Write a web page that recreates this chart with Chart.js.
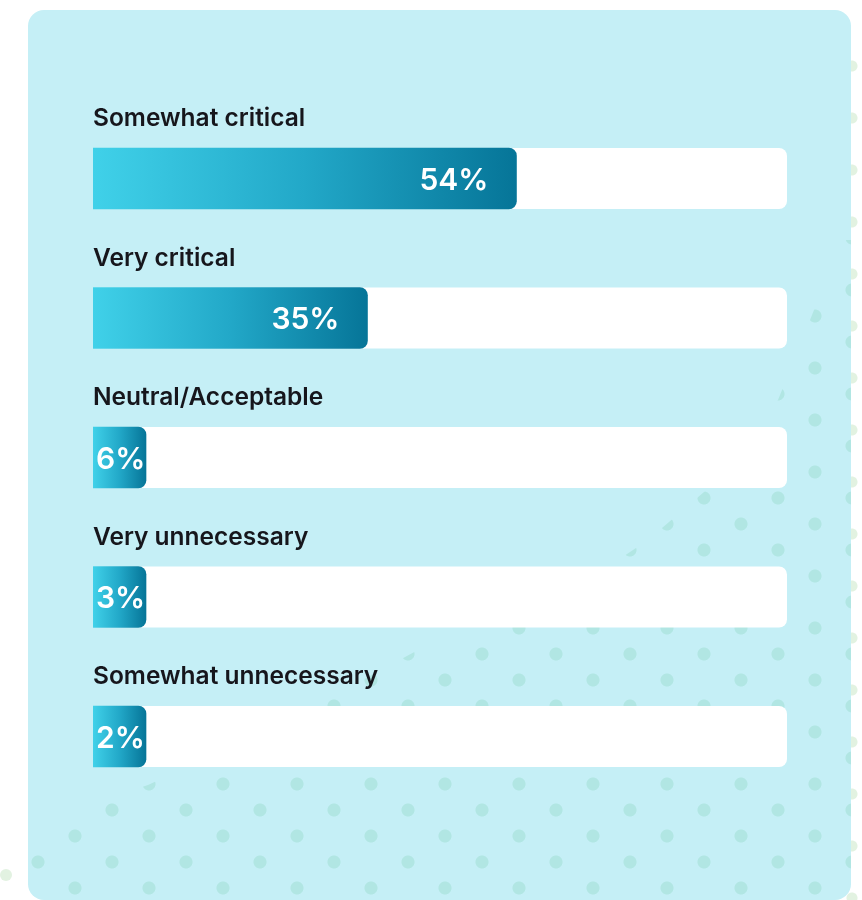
<!DOCTYPE html>
<html>
<head>
<meta charset="utf-8">
<script src="https://cdn.jsdelivr.net/npm/chart.js@4.4.1/dist/chart.umd.min.js"></script>
<style>
  html, body { margin: 0; padding: 0; background: #fff; }
  body { width: 862px; height: 900px; position: relative; overflow: hidden; }
  .side-dots {
    position: absolute; left: 842px; top: 40px; width: 20px; height: 860px;
    background-image: radial-gradient(circle, #e2f2e1 5px, transparent 6px);
    background-size: 20px 52px;
  }
  .left-dot {
    position: absolute; left: 0; top: 869px; width: 12px; height: 12px;
    border-radius: 50%; background: #e2f2e1;
  }
  .panel {
    position: absolute; left: 28px; top: 10px; width: 823px; height: 890px;
    background: #c5eff6; border-radius: 16px; overflow: hidden;
  }
  .panel .dots {
    position: absolute; inset: 0;
    background-image:
      radial-gradient(circle, #b1e6e3 6px, transparent 7px),
      radial-gradient(circle, #b1e6e3 6px, transparent 7px);
    background-size: 74px 52px, 74px 52px;
    background-position: 10px 20px, 47px 46px;
    /* page coords minus panel offset (28,10) */
    clip-path: polygon(805px 230px, 823px 230px, 823px 890px, 0 890px, 0 815px,
      120px 775px, 270px 705px, 390px 640px, 530px 590px, 620px 530px,
      690px 470px, 750px 390px, 790px 290px);
  }
  canvas { position: absolute; left: 0; top: 0; }
</style>
</head>
<body>
<div class="side-dots"></div>
<div class="left-dot"></div>
<div class="panel"><div class="dots"></div></div>
<canvas id="chart" width="862" height="900"></canvas>
<script>
const categories = ['Somewhat critical', 'Very critical', 'Neutral/Acceptable', 'Very unnecessary', 'Somewhat unnecessary'];
const shares = [54, 35, 6, 3, 2];
const percentLabels = ['54%', '35%', '6%', '3%', '2%'];

const minLen = 53;

function barGradient(context) {
  const chart = context.chart;
  if (!chart.chartArea) return '#1fa6c6';
  const x = chart.scales.x;
  const start = x.getPixelForValue(0);
  const end = Math.max(x.getPixelForValue(context.raw), start + minLen);
  const g = chart.ctx.createLinearGradient(start, 0, end, 0);
  g.addColorStop(0, '#40d1e9');
  g.addColorStop(0.5, '#22a8c8');
  g.addColorStop(1, '#067598');
  return g;
}

// white track behind each bar, the full width of the chart area
const tracks = {
  id: 'tracks',
  beforeDatasetsDraw(chart) {
    const ctx = chart.ctx;
    const area = chart.chartArea;
    ctx.save();
    ctx.fillStyle = '#ffffff';
    chart.getDatasetMeta(0).data.forEach(bar => {
      const top = bar.y - bar.height / 2;
      ctx.beginPath();
      ctx.roundRect(area.left, top, area.right - area.left, bar.height, [0, 8, 8, 0]);
      ctx.fill();
    });
    ctx.restore();
  }
};

// category names above bars, percentages inside the bar ends
const barText = {
  id: 'barText',
  afterDatasetsDraw(chart) {
    const ctx = chart.ctx;
    ctx.save();
    chart.getDatasetMeta(0).data.forEach((bar, i) => {
      const top = bar.y - bar.height / 2;
      ctx.fillStyle = '#16161c';
      ctx.font = '600 24.5px Inter, "DejaVu Sans", sans-serif';
      ctx.textAlign = 'left';
      ctx.textBaseline = 'alphabetic';
      ctx.fillText(categories[i], bar.base, top - 22);

      ctx.fillStyle = '#ffffff';
      ctx.font = '600 30px Inter, "DejaVu Sans", sans-serif';
      const label = percentLabels[i];
      const w = ctx.measureText(label).width;
      let left = bar.x - 28 - w;
      if (left < bar.base + 3) left = bar.base + 3;
      ctx.fillText(label, left, bar.y + 11);
    });
    ctx.restore();
  }
};

new Chart(document.getElementById('chart'), {
  type: 'bar',
  data: {
    labels: categories,
    datasets: [{
      label: 'Share',
      data: shares,
      backgroundColor: barGradient,
      borderRadius: 8,
      barThickness: 61,
      minBarLength: minLen
    }]
  },
  options: {
    indexAxis: 'y',
    responsive: false,
    animation: false,
    layout: { padding: { left: 93, right: 75, top: 108.75, bottom: 93.75 } },
    scales: {
      x: { display: false, min: 0, max: 88.5 },
      y: { display: false }
    },
    plugins: {
      legend: { display: false },
      tooltip: { enabled: false }
    }
  },
  plugins: [tracks, barText]
});
</script>
</body>
</html>
